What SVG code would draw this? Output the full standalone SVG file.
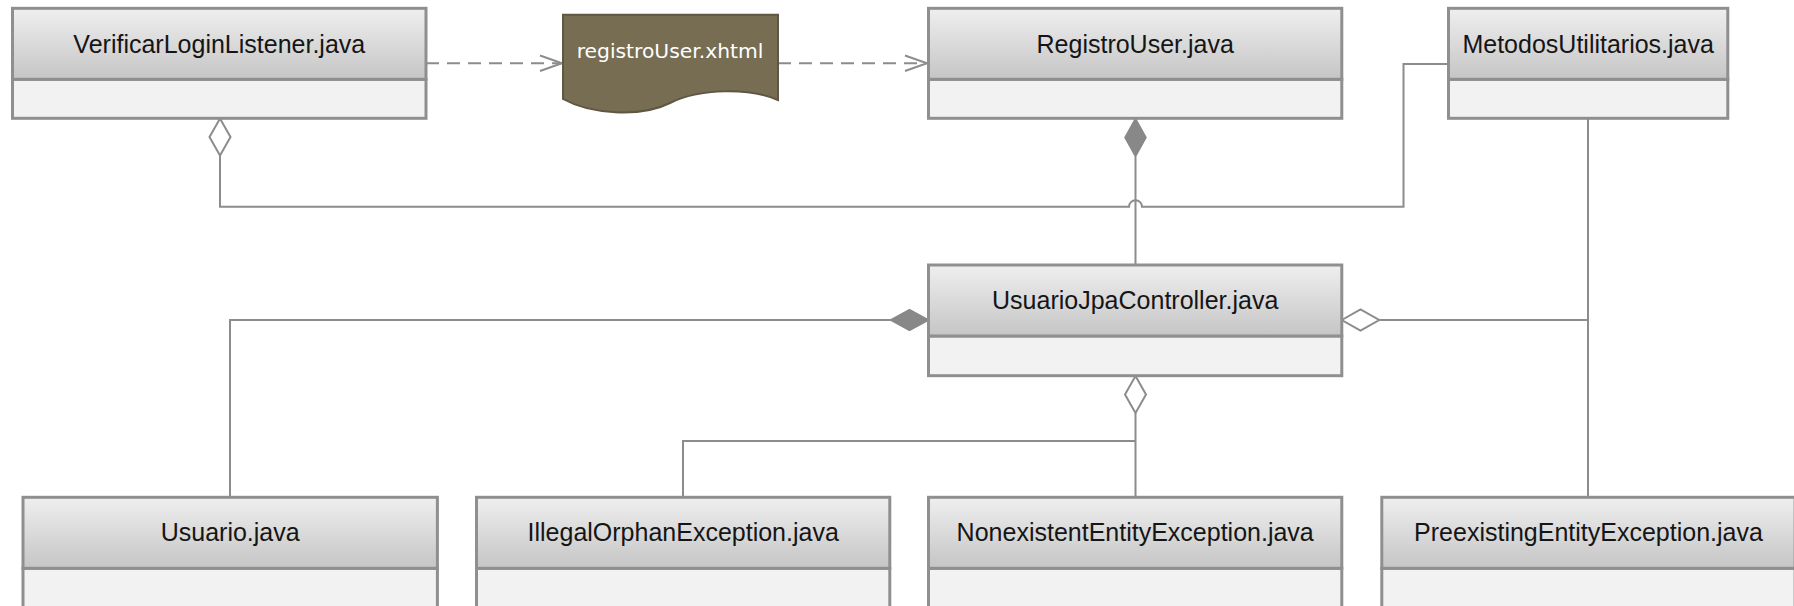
<svg xmlns="http://www.w3.org/2000/svg" width="1794" height="606" viewBox="0 0 1794 606">
<defs>
<linearGradient id="hdr" x1="0" y1="0" x2="0" y2="1">
<stop offset="0" stop-color="#efefef"/>
<stop offset="1" stop-color="#c5c5c5"/>
</linearGradient>
<style>
.hd{fill:url(#hdr);stroke:#8f8f8f;stroke-width:3}
.bd{fill:#f2f2f2;stroke:#8f8f8f;stroke-width:3}
.lbl{font-family:"Liberation Sans",Arial,sans-serif;font-size:25px;fill:#151515;text-anchor:middle}
.doc{fill:#766d53;stroke:#5f5742;stroke-width:2}
.doct{font-family:"DejaVu Sans","Liberation Sans",sans-serif;font-size:20.3px;fill:#ffffff;text-anchor:middle}
.ln{fill:none;stroke:#8c8c8c;stroke-width:2}
.dash{fill:none;stroke:#8c8c8c;stroke-width:2;stroke-dasharray:13 8}
.ah{fill:none;stroke:#8c8c8c;stroke-width:2}
.od{fill:#ffffff;stroke:#8c8c8c;stroke-width:2}
.fd{fill:#888888;stroke:#888888;stroke-width:1.5}
</style>
</defs>
<rect width="1794" height="606" fill="#ffffff"/>

<g id="connectors">
<path class="dash" d="M426,63.3 H561"/>
<polyline class="ah" points="540,55.5 562,63.3 540,71"/>
<path class="dash" d="M778,63.3 H926"/>
<polyline class="ah" points="905,55.5 927,63.3 905,71"/>
<path class="ln" d="M220,155.5 V206.7 H1129 A6.5,6.5 0 0 1 1142,206.7 H1403.5 V64 H1448.5"/>
<polygon class="od" points="220,118.5 230.5,137 220,155.5 209.5,137"/>
<path class="ln" d="M1135.5,156.5 V265"/>
<polygon class="fd" points="1135.5,118.5 1146,137.5 1135.5,156.5 1125,137.5"/>
<path class="ln" d="M890.5,320 H230 V497"/>
<polygon class="fd" points="928.5,320 909.5,330.5 890.5,320 909.5,309.5"/>
<path class="ln" d="M1379.2,320 H1588"/>
<polygon class="od" points="1341.8,320 1360.5,309.5 1379.2,320 1360.5,330.5"/>
<path class="ln" d="M1588,118 V497"/>
<path class="ln" d="M1135.5,413 V497 M1135.5,441 H683 V497"/>
<polygon class="od" points="1135.5,376 1146,394.5 1135.5,413 1125,394.5"/>
</g>

<g id="VerificarLoginListener">
<rect class="bd" x="12.5" y="79.3" width="413.5" height="39"/>
<rect class="hd" x="12.5" y="8.3" width="413.5" height="71"/>
<text class="lbl" x="219.3" y="52.6">VerificarLoginListener.java</text>
</g>

<g id="registroUserXhtml">
<path class="doc" d="M563,14.7 H778 V100 C750,88 700,88 670,103 C640,118 590,114 563,99 Z"/>
<text class="doct" x="670" y="58">registroUser.xhtml</text>
</g>

<g id="RegistroUser">
<rect class="bd" x="928.5" y="79.3" width="413.3" height="39"/>
<rect class="hd" x="928.5" y="8.3" width="413.3" height="71"/>
<text class="lbl" x="1135.2" y="52.6">RegistroUser.java</text>
</g>

<g id="MetodosUtilitarios">
<rect class="bd" x="1448.5" y="79.3" width="279.3" height="39"/>
<rect class="hd" x="1448.5" y="8.3" width="279.3" height="71"/>
<text class="lbl" x="1588.2" y="52.6">MetodosUtilitarios.java</text>
</g>

<g id="UsuarioJpaController">
<rect class="bd" x="928.5" y="336" width="413.3" height="39.7"/>
<rect class="hd" x="928.5" y="265" width="413.3" height="71"/>
<text class="lbl" x="1135.2" y="309.3">UsuarioJpaController.java</text>
</g>

<g id="Usuario">
<rect class="bd" x="23" y="568.3" width="414.4" height="60"/>
<rect class="hd" x="23" y="497.3" width="414.4" height="71"/>
<text class="lbl" x="230.2" y="541.3">Usuario.java</text>
</g>

<g id="IllegalOrphanException">
<rect class="bd" x="476.5" y="568.3" width="413.3" height="60"/>
<rect class="hd" x="476.5" y="497.3" width="413.3" height="71"/>
<text class="lbl" x="683.2" y="541.3">IllegalOrphanException.java</text>
</g>

<g id="NonexistentEntityException">
<rect class="bd" x="928.5" y="568.3" width="413.3" height="60"/>
<rect class="hd" x="928.5" y="497.3" width="413.3" height="71"/>
<text class="lbl" x="1135.2" y="541.3">NonexistentEntityException.java</text>
</g>

<g id="PreexistingEntityException">
<rect class="bd" x="1381.8" y="568.3" width="413.3" height="60"/>
<rect class="hd" x="1381.8" y="497.3" width="413.3" height="71"/>
<text class="lbl" x="1588.5" y="541.3">PreexistingEntityException.java</text>
</g>
</svg>
